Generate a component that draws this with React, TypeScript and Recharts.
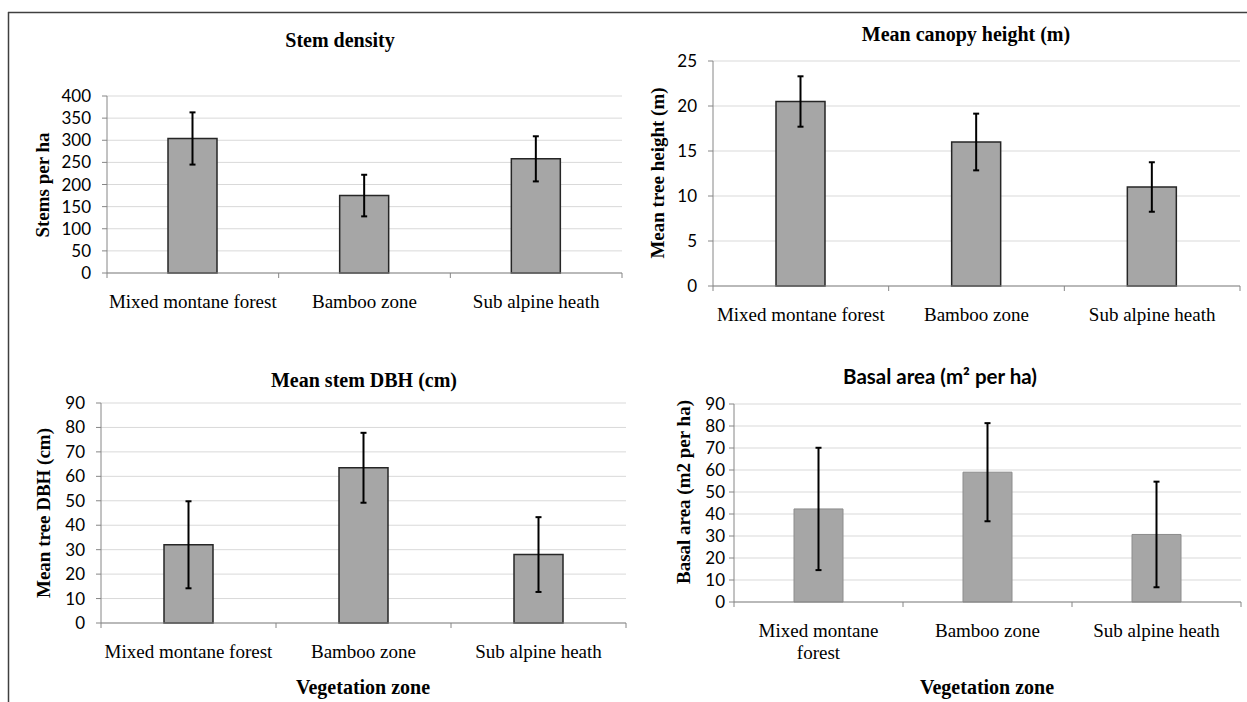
import { BarChart, Bar, XAxis, YAxis, CartesianGrid, ErrorBar } from 'recharts'

const zones = ['Mixed montane forest', 'Bamboo zone', 'Sub alpine heath']

const stemDensity = [304, 175, 258]
const stemDensityErr = [59, 47, 51]
const canopyHeight = [20.5, 16.0, 11.0]
const canopyHeightErr = [2.8, 3.15, 2.75]
const stemDbh = [32, 63.5, 28]
const stemDbhErr = [17.8, 14.3, 15.3]
const basalArea = [42.3, 59, 30.7]
const basalAreaErr = [27.8, 22.3, 24]

const stemTicks = [0, 50, 100, 150, 200, 250, 300, 350, 400]
const heightTicks = [0, 5, 10, 15, 20, 25]
const dbhTicks = [0, 10, 20, 30, 40, 50, 60, 70, 80, 90]
const basalTicks = [0, 10, 20, 30, 40, 50, 60, 70, 80, 90]

const AXIS = '#868686'
const GRID = '#d9d9d9'
const SERIF = '"Liberation Serif", "Times New Roman", serif'
const SANS = 'Lato, "Open Sans", sans-serif'

function toRows(values: number[], errs: number[]) {
  return zones.map((zone, i) => ({ zone, value: values[i], err: errs[i] }))
}

function ZoneTick(props: any) {
  const { x, y, payload, index, band, wrap } = props
  const half = band / 2
  const label: string = payload.value
  let lines = [label]
  if (wrap && label.length > 18) {
    const cut = label.lastIndexOf(' ')
    lines = [label.slice(0, cut), label.slice(cut + 1)]
  }
  return (
    <g>
      <line x1={x - half} x2={x - half} y1={y} y2={y + 5} stroke={AXIS} />
      {index === zones.length - 1 && <line x1={x + half} x2={x + half} y1={y} y2={y + 5} stroke={AXIS} />}
      <text x={x} y={y + 35} textAnchor="middle" fontFamily={SERIF} fontSize={19} fill="#000">
        {lines.map((l, i) => (
          <tspan key={i} x={x} dy={i === 0 ? 0 : 21.5}>{l}</tspan>
        ))}
      </text>
    </g>
  )
}

interface PanelProps {
  box: { left: number; top: number; width: number; height: number }
  yWidth: number
  values: number[]
  errs: number[]
  ticks: number[]
  barStroke: string
  barStrokeWidth: number
  tickGap: number
  wrap?: boolean
}

function Panel({ box, yWidth, values, errs, ticks, barStroke, barStrokeWidth, tickGap, wrap }: PanelProps) {
  const margin = { top: 10, right: 6, left: 0, bottom: 0 }
  const band = (box.width - yWidth - margin.right) / zones.length
  return (
    <div style={{ position: 'absolute', left: box.left, top: box.top }}>
      <BarChart width={box.width} height={box.height} data={toRows(values, errs)} margin={margin} barSize={49}>
        <CartesianGrid vertical={false} stroke={GRID} />
        <XAxis
          dataKey="zone"
          height={60}
          stroke={AXIS}
          tickLine={false}
          tickSize={0}
          tickMargin={0}
          interval={0}
          tick={(p: any) => <ZoneTick {...p} band={band} wrap={wrap} />}
        />
        <YAxis
          width={yWidth}
          domain={[ticks[0], ticks[ticks.length - 1]]}
          ticks={ticks}
          interval={0}
          stroke={AXIS}
          tickSize={5}
          tickMargin={tickGap}
          tick={{ fontFamily: SANS, fontSize: 17, fill: '#000' }}
        />
        <Bar dataKey="value" fill="#a6a6a6" stroke={barStroke} strokeWidth={barStrokeWidth} isAnimationActive={false}>
          <ErrorBar dataKey="err" direction="y" width={3} stroke="#000" strokeWidth={2} isAnimationActive={false} />
        </Bar>
      </BarChart>
    </div>
  )
}

export default function App() {
  const bold = { fontFamily: SERIF, fontWeight: 700, fill: '#000' }
  return (
    <div style={{ position: 'absolute', left: 0, top: 0, width: 1247, height: 702, background: '#fff', overflow: 'hidden' }}>
      <Panel box={{ left: 0, top: 86, width: 628, height: 247 }} yWidth={107} tickGap={11}
        values={stemDensity} errs={stemDensityErr} ticks={stemTicks} barStroke="#262626" barStrokeWidth={1.5} />
      <Panel box={{ left: 630, top: 51, width: 616, height: 295 }} yWidth={83} tickGap={11}
        values={canopyHeight} errs={canopyHeightErr} ticks={heightTicks} barStroke="#262626" barStrokeWidth={1.5} />
      <Panel box={{ left: 0, top: 393, width: 632, height: 290 }} yWidth={101} tickGap={11}
        values={stemDbh} errs={stemDbhErr} ticks={dbhTicks} barStroke="#262626" barStrokeWidth={1.5} />
      <Panel box={{ left: 630, top: 394, width: 617, height: 268 }} yWidth={104} tickGap={4}
        values={basalArea} errs={basalAreaErr} ticks={basalTicks} barStroke="#8c8c8c" barStrokeWidth={1} wrap />

      <svg width={1247} height={702} style={{ position: 'absolute', left: 0, top: 0, pointerEvents: 'none' }}>
        <line x1={8} y1={12.5} x2={1247} y2={12.5} stroke="#404040" strokeWidth={1.5} />
        <line x1={8.5} y1={12} x2={8.5} y2={702} stroke="#404040" strokeWidth={1.5} />

        <text x={340} y={47} textAnchor="middle" fontSize={20} {...bold}>Stem density</text>
        <text x={966} y={41} textAnchor="middle" fontSize={20} {...bold}>Mean canopy height (m)</text>
        <text x={364} y={387} textAnchor="middle" fontSize={20} {...bold}>Mean stem DBH (cm)</text>
        <text x={940} y={384} textAnchor="middle" fontSize={20.5} fontFamily={SANS} fontWeight={700} fill="#000">
          Basal area (m² per ha)
        </text>

        <text x={49} y={185} transform="rotate(-90 49 185)" textAnchor="middle" fontSize={19} {...bold}>Stems per ha</text>
        <text x={664} y={173} transform="rotate(-90 664 173)" textAnchor="middle" fontSize={19} {...bold}>Mean tree height (m)</text>
        <text x={50} y={513} transform="rotate(-90 50 513)" textAnchor="middle" fontSize={19} {...bold}>Mean tree DBH (cm)</text>
        <text x={690} y={492} transform="rotate(-90 690 492)" textAnchor="middle" fontSize={19} {...bold}>Basal area (m2 per ha)</text>

        <text x={363} y={694} textAnchor="middle" fontSize={20} {...bold}>Vegetation zone</text>
        <text x={987} y={694} textAnchor="middle" fontSize={20} {...bold}>Vegetation zone</text>
      </svg>
    </div>
  )
}
